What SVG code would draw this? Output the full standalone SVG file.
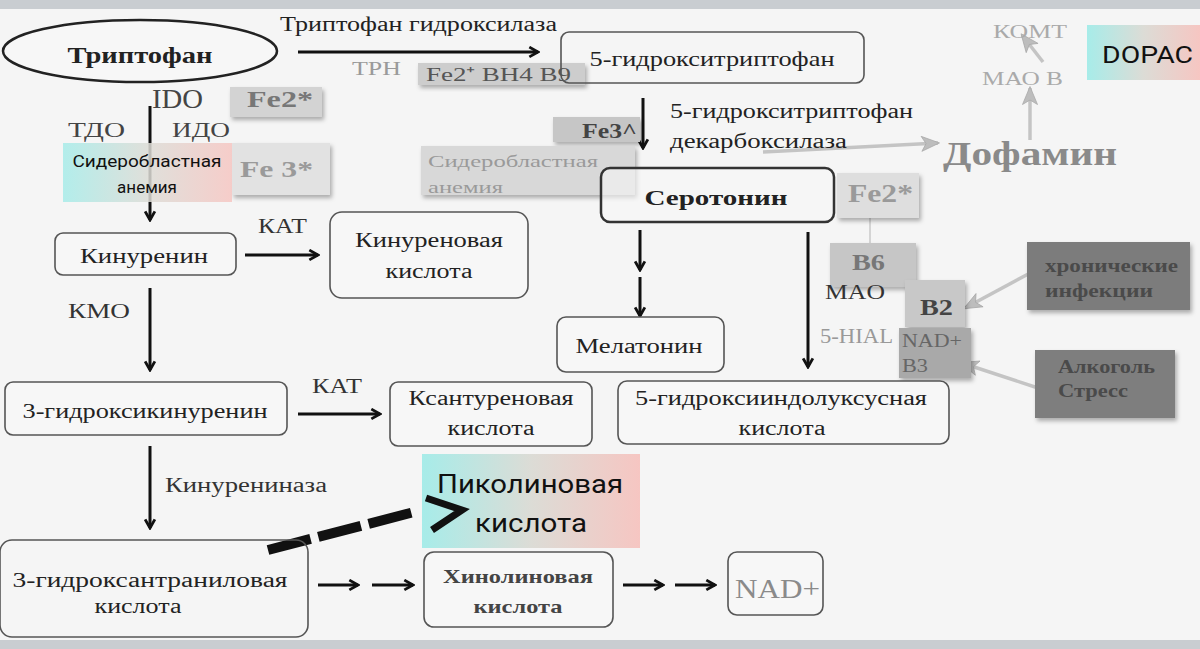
<svg xmlns="http://www.w3.org/2000/svg" width="1200" height="649" viewBox="0 0 1200 649">
<defs>
<style>
.s{font-family:"Liberation Serif","Times New Roman",serif;fill:#222}
.b{font-weight:bold}
.ss{font-family:Roboto,"Liberation Sans",sans-serif;fill:#111}
.box{fill:#f7f7f7;stroke:#555;stroke-width:1.6}
.ln{stroke:#111;stroke-width:3;fill:none}
.gl{stroke:#c4c4c4;stroke-width:3.5;fill:none}
</style>
<linearGradient id="grad" x1="0" y1="0" x2="1" y2="0">
<stop offset="0" stop-color="#a7ece9"/>
<stop offset="0.5" stop-color="#dcdcd6"/>
<stop offset="1" stop-color="#f6c6c2"/>
</linearGradient>
<filter id="sh" x="-20%" y="-20%" width="140%" height="150%">
<feDropShadow dx="2" dy="3" stdDeviation="2" flood-color="#000" flood-opacity="0.3"/>
</filter>
<marker id="ah" viewBox="0 0 12 12" refX="10" refY="6" markerWidth="13" markerHeight="13" markerUnits="userSpaceOnUse" orient="auto">
<path d="M2,1.5 L10,6 L2,10.5" fill="none" stroke="#111" stroke-width="2.6"/>
</marker>
<marker id="gh" viewBox="0 0 12 12" refX="11" refY="6" markerWidth="22" markerHeight="18" markerUnits="userSpaceOnUse" orient="auto">
<path d="M0,1 L12,6 L0,11 L3,6 Z" fill="#bdbdbd" stroke="#a8a8a8" stroke-width="0.5"/>
</marker>
</defs>
<rect x="0" y="0" width="1200" height="649" fill="#f5f5f5"/>
<rect x="0" y="0" width="1200" height="9" fill="#c9cdd1"/>
<rect x="0" y="640" width="1200" height="9" fill="#c9cdd1"/>

<g id="picolinic">
<rect x="422" y="454" width="218" height="94" fill="url(#grad)"/>
<text class="ss" x="530" y="493" font-size="25" text-anchor="middle" textLength="186" lengthAdjust="spacingAndGlyphs">Пиколиновая</text>
<text class="ss" x="531" y="532" font-size="25" text-anchor="middle" textLength="112" lengthAdjust="spacingAndGlyphs">кислота</text>
</g>
<g id="cof-tph">
<rect x="418" y="63" width="167" height="22" fill="#cdcdcd" filter="url(#sh)"/>
<text class="s" x="426" y="81" font-size="19" style="fill:#555" textLength="145" lengthAdjust="spacingAndGlyphs">Fe2⁺ BH4 B9</text>
</g>

<g id="connectors">
<line class="ln" x1="298" y1="52" x2="538" y2="52" marker-end="url(#ah)"/>
<line class="ln" x1="150" y1="106" x2="150" y2="220" marker-end="url(#ah)"/>
<line class="ln" x1="245" y1="255" x2="318" y2="255" marker-end="url(#ah)"/>
<line class="ln" x1="150" y1="288" x2="150" y2="370" marker-end="url(#ah)"/>
<line class="ln" x1="298" y1="414" x2="380" y2="414" marker-end="url(#ah)"/>
<line class="ln" x1="150" y1="446" x2="150" y2="528" marker-end="url(#ah)"/>
<line class="ln" x1="318" y1="585" x2="358" y2="585" marker-end="url(#ah)"/>
<line class="ln" x1="372" y1="585" x2="413" y2="585" marker-end="url(#ah)"/>
<line class="ln" x1="623" y1="585" x2="663" y2="585" marker-end="url(#ah)"/>
<line class="ln" x1="675" y1="585" x2="715" y2="585" marker-end="url(#ah)"/>
<line class="ln" x1="643" y1="98" x2="643" y2="148" stroke-width="2.5" marker-end="url(#ah)"/>
<line class="ln" x1="640" y1="230" x2="640" y2="270" marker-end="url(#ah)"/>
<line class="ln" x1="640" y1="277" x2="640" y2="316" marker-end="url(#ah)"/>
<line class="ln" x1="808" y1="232" x2="808" y2="367" stroke-width="3.5" marker-end="url(#ah)"/>
<line class="gl" x1="763" y1="152" x2="938" y2="143" marker-end="url(#gh)"/>
<line class="gl" x1="1030" y1="140" x2="1030" y2="88" stroke-width="2.5" marker-end="url(#gh)"/>
<line class="gl" x1="1043" y1="62" x2="1022" y2="35" stroke-width="2.5" marker-end="url(#gh)"/>
<line class="gl" x1="1032" y1="272" x2="965" y2="308" stroke-width="2.5" marker-end="url(#gh)"/>
<line class="gl" x1="1038" y1="388" x2="962" y2="363" stroke-width="2.5" marker-end="url(#gh)"/>
<line x1="870" y1="218" x2="870" y2="243" stroke="#c8c8c8" stroke-width="1.5"/>
<line x1="268" y1="550" x2="418" y2="511" stroke="#111" stroke-width="10" stroke-dasharray="44 8"/>
<polyline points="426,498 462,510 432,530" fill="none" stroke="#111" stroke-width="7" stroke-linejoin="miter"/>
</g>

<g id="tryptophan">
<ellipse cx="140" cy="51" rx="137" ry="31" fill="#f7f7f7" stroke="#222" stroke-width="2.5"/>
<text class="s b" x="140" y="63" font-size="24" text-anchor="middle" textLength="145" lengthAdjust="spacingAndGlyphs">Триптофан</text>
</g>
<g id="lbl-tph">
<text class="s" x="280" y="31" font-size="20" textLength="277" lengthAdjust="spacingAndGlyphs">Триптофан гидроксилаза</text>
<text class="s" x="352" y="75" font-size="19" style="fill:#9a9a9a" textLength="49" lengthAdjust="spacingAndGlyphs">TPH</text>
</g>
<g id="htp">
<rect x="561" y="32" width="303" height="51" rx="8" fill="none" stroke="#555" stroke-width="1.6"/>
<text class="s" x="712" y="66" font-size="21" text-anchor="middle" textLength="245" lengthAdjust="spacingAndGlyphs">5-гидрокситриптофан</text>
</g>
<g id="ido">
<text class="s" x="152" y="108" font-size="27" style="fill:#444" textLength="51" lengthAdjust="spacingAndGlyphs">IDO</text>
<text class="s" x="68" y="137" font-size="21" style="fill:#444" textLength="57" lengthAdjust="spacingAndGlyphs">ТДО</text>
<text class="s" x="172" y="137" font-size="21" style="fill:#444" textLength="58" lengthAdjust="spacingAndGlyphs">ИДО</text>
</g>
<g id="fe2-top">
<rect x="230" y="87" width="92" height="30" fill="#d3d3d3" filter="url(#sh)"/>
<text class="s b" x="247" y="107" font-size="24" style="fill:#777" textLength="66" lengthAdjust="spacingAndGlyphs">Fe2*</text>
</g>
<g id="fe3-left">
<rect x="232" y="143" width="98" height="52" fill="#e2e2e2" filter="url(#sh)"/>
<text class="s b" x="240" y="177" font-size="24" style="fill:#9a9a9a" textLength="73" lengthAdjust="spacingAndGlyphs">Fe 3*</text>
</g>
<g id="sidero-left">
<rect x="63" y="143" width="169" height="59" fill="url(#grad)" fill-opacity="0.85"/>
<text class="ss" x="147" y="167" font-size="17" text-anchor="middle" textLength="149" lengthAdjust="spacingAndGlyphs">Сидеробластная</text>
<text class="ss" x="147" y="193" font-size="17" text-anchor="middle">анемия</text>
</g>
<g id="kynurenine">
<rect class="box" x="55" y="233" width="181" height="42" rx="8"/>
<text class="s" x="144" y="263" font-size="20" text-anchor="middle" textLength="128" lengthAdjust="spacingAndGlyphs">Кинуренин</text>
<text class="s" x="258" y="233" font-size="20" style="fill:#333" textLength="49" lengthAdjust="spacingAndGlyphs">КАТ</text>
<text class="s" x="68" y="318" font-size="20" style="fill:#333" textLength="62" lengthAdjust="spacingAndGlyphs">КМО</text>
</g>
<g id="kyna">
<rect class="box" x="330" y="212" width="198" height="86" rx="12"/>
<text class="s" x="429" y="247" font-size="20" text-anchor="middle" textLength="148" lengthAdjust="spacingAndGlyphs">Кинуреновая</text>
<text class="s" x="429" y="278" font-size="20" text-anchor="middle" textLength="87" lengthAdjust="spacingAndGlyphs">кислота</text>
</g>
<g id="hk">
<rect class="box" x="5" y="382" width="282" height="53" rx="8"/>
<text class="s" x="145" y="418" font-size="20" text-anchor="middle" textLength="245" lengthAdjust="spacingAndGlyphs">3-гидроксикинуренин</text>
<text class="s" x="312" y="393" font-size="20" style="fill:#333" textLength="50" lengthAdjust="spacingAndGlyphs">КАТ</text>
</g>
<g id="xa">
<rect class="box" x="390" y="382" width="202" height="64" rx="8"/>
<text class="s" x="491" y="405" font-size="20" text-anchor="middle" textLength="165" lengthAdjust="spacingAndGlyphs">Ксантуреновая</text>
<text class="s" x="491" y="435" font-size="20" text-anchor="middle" textLength="87" lengthAdjust="spacingAndGlyphs">кислота</text>
</g>
<g id="lbl-kynureninase">
<text class="s" x="165" y="492" font-size="20" style="fill:#333" textLength="162" lengthAdjust="spacingAndGlyphs">Кинурениназа</text>
</g>
<g id="haa">
<rect class="box" x="0" y="540" width="308" height="97" rx="12" fill-opacity="0"/>
<text class="s" x="150" y="587" font-size="20" text-anchor="middle" textLength="275" lengthAdjust="spacingAndGlyphs">3-гидроксантраниловая</text>
<text class="s" x="138" y="613" font-size="20" text-anchor="middle" textLength="87" lengthAdjust="spacingAndGlyphs">кислота</text>
</g>
<g id="quinolinic">
<rect class="box" x="424" y="552" width="189" height="75" rx="10"/>
<text class="s b" x="518" y="583" font-size="19" text-anchor="middle" style="fill:#444" textLength="150" lengthAdjust="spacingAndGlyphs">Хинолиновая</text>
<text class="s b" x="518" y="613" font-size="19" text-anchor="middle" style="fill:#444" textLength="89" lengthAdjust="spacingAndGlyphs">кислота</text>
</g>
<g id="nad">
<rect class="box" x="728" y="552" width="95" height="63" rx="9"/>
<text class="s" x="735" y="598" font-size="27" style="fill:#8a8a8a" textLength="85" lengthAdjust="spacingAndGlyphs">NAD+</text>
</g>
<g id="lbl-decarb">
<text class="s" x="670" y="118" font-size="20" textLength="243" lengthAdjust="spacingAndGlyphs">5-гидрокситриптофан</text>
<text class="s" x="670" y="148" font-size="20" textLength="177" lengthAdjust="spacingAndGlyphs">декарбоксилаза</text>
</g>
<g id="fe3-mid">
<rect x="553" y="117" width="87" height="25" fill="#c6c6c6" filter="url(#sh)"/>
<text class="s b" x="582" y="138" font-size="20" style="fill:#444" textLength="55" lengthAdjust="spacingAndGlyphs">Fe3^</text>
</g>
<g id="sidero-mid">
<rect x="421" y="146" width="214" height="49" fill="#d8d8d8" filter="url(#sh)"/>
<text class="s" x="428" y="167" font-size="17" style="fill:#9a9a9a" textLength="170" lengthAdjust="spacingAndGlyphs">Сидеробластная</text>
<text class="s" x="428" y="193" font-size="17" style="fill:#9a9a9a" textLength="75" lengthAdjust="spacingAndGlyphs">анемия</text>
</g>
<g id="serotonin">
<rect x="601" y="168" width="233" height="54" rx="9" fill="#f7f7f7" fill-opacity="0.6" stroke="#333" stroke-width="2.5"/>
<text class="s b" x="716" y="205" font-size="22" text-anchor="middle" textLength="143" lengthAdjust="spacingAndGlyphs">Серотонин</text>
</g>
<g id="dopamine">
<text class="s b" x="943" y="165" font-size="34" style="fill:#8a8a8a" textLength="174" lengthAdjust="spacingAndGlyphs">Дофамин</text>
<text class="s" x="982" y="85" font-size="19" style="fill:#aaa" textLength="81" lengthAdjust="spacingAndGlyphs">МАО В</text>
<text class="s" x="993" y="38" font-size="19" style="fill:#aaa" textLength="74" lengthAdjust="spacingAndGlyphs">КОМТ</text>
</g>
<g id="dopac">
<rect x="1087" y="25" width="113" height="55" fill="url(#grad)"/>
<text class="ss" x="1102" y="63" font-size="24" textLength="91" lengthAdjust="spacingAndGlyphs">DOPAC</text>
</g>
<g id="fe2-right">
<rect x="837" y="173" width="82" height="45" fill="#dedede" filter="url(#sh)"/>
<text class="s b" x="848" y="202" font-size="26" style="fill:#9a9a9a" textLength="65" lengthAdjust="spacingAndGlyphs">Fe2*</text>
</g>
<g id="b6">
<rect x="830" y="243" width="86" height="44" fill="#c6c6c6" filter="url(#sh)"/>
<text class="s b" x="852" y="270" font-size="24" style="fill:#777" textLength="33" lengthAdjust="spacingAndGlyphs">B6</text>
</g>
<g id="mao">
<text class="s" x="825" y="299" font-size="21" style="fill:#333" textLength="60" lengthAdjust="spacingAndGlyphs">MAO</text>
</g>
<g id="b2">
<rect x="905" y="280" width="60" height="47" fill="#c8c8c8" filter="url(#sh)"/>
<text class="s b" x="920" y="315" font-size="24" style="fill:#444" textLength="33" lengthAdjust="spacingAndGlyphs">B2</text>
</g>
<g id="hial">
<text class="s" x="820" y="343" font-size="20" style="fill:#999" textLength="73" lengthAdjust="spacingAndGlyphs">5-HIAL</text>
</g>
<g id="nad-b3">
<rect x="899" y="328" width="72" height="50" fill="#a9a9a9" filter="url(#sh)"/>
<text class="s" x="902" y="347" font-size="18" style="fill:#666" textLength="60" lengthAdjust="spacingAndGlyphs">NAD+</text>
<text class="s" x="902" y="372" font-size="18" style="fill:#666" textLength="26" lengthAdjust="spacingAndGlyphs">B3</text>
</g>
<g id="melatonin">
<rect class="box" x="557" y="317" width="167" height="55" rx="9"/>
<text class="s" x="639" y="353" font-size="20" text-anchor="middle" textLength="127" lengthAdjust="spacingAndGlyphs">Мелатонин</text>
</g>
<g id="hiaa">
<rect class="box" x="618" y="381" width="331" height="63" rx="9"/>
<text class="s" x="781" y="405" font-size="20" text-anchor="middle" textLength="292" lengthAdjust="spacingAndGlyphs">5-гидроксииндолуксусная</text>
<text class="s" x="782" y="435" font-size="20" text-anchor="middle" textLength="87" lengthAdjust="spacingAndGlyphs">кислота</text>
</g>
<g id="infections">
<rect x="1027" y="242" width="163" height="68" fill="#7c7c7c" filter="url(#sh)"/>
<text class="s b" x="1045" y="272" font-size="18" style="fill:#4a4a4a" textLength="133" lengthAdjust="spacingAndGlyphs">хронические</text>
<text class="s b" x="1045" y="297" font-size="18" style="fill:#4a4a4a" textLength="108" lengthAdjust="spacingAndGlyphs">инфекции</text>
</g>
<g id="alcohol">
<rect x="1035" y="350" width="140" height="68" fill="#7e7e7e" filter="url(#sh)"/>
<text class="s b" x="1058" y="373" font-size="18" style="fill:#4a4a4a" textLength="97" lengthAdjust="spacingAndGlyphs">Алкоголь</text>
<text class="s b" x="1058" y="397" font-size="18" style="fill:#4a4a4a" textLength="70" lengthAdjust="spacingAndGlyphs">Стресс</text>
</g>
</svg>
